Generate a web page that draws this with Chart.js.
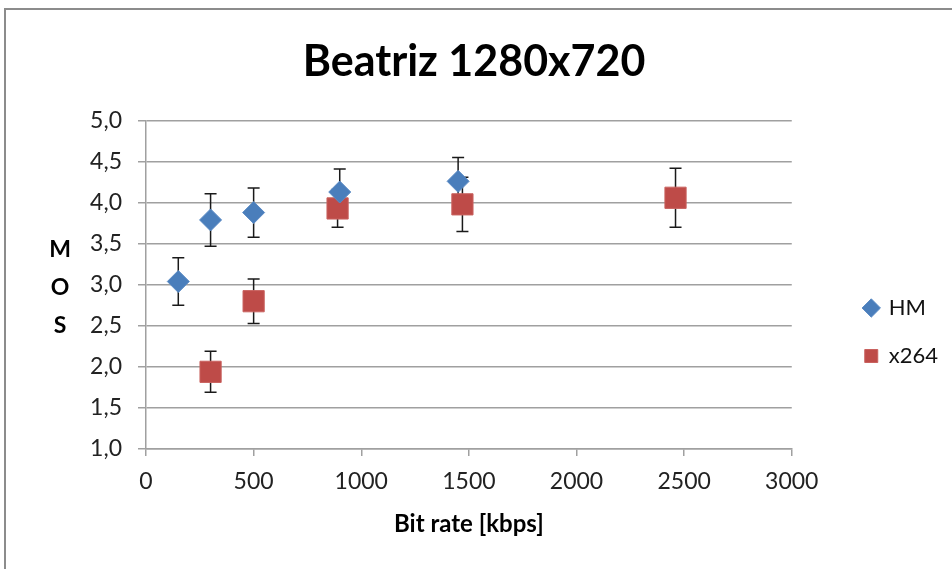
<!DOCTYPE html>
<html>
<head>
<meta charset="utf-8">
<script src="https://cdn.jsdelivr.net/npm/chart.js@4.4.1/dist/chart.umd.min.js"></script>
<style>
body { margin: 0; background: #fff; }
#wrap { position: relative; width: 952px; height: 569px; overflow: hidden; }
#frame { position: absolute; left: 4px; top: 8px; width: 1000px; height: 700px; border-top: 2px solid #8c8c8c; border-left: 2px solid #8c8c8c; }
canvas { position: absolute; left: 0; top: 0; }
</style>
</head>
<body>
<div id="wrap"><div id="frame"></div><canvas id="myChart" width="952" height="569"></canvas></div>
<script>
var bitrateHM = [150, 300, 500, 900, 1450];
var mosHM = [3.04, 3.79, 3.88, 4.13, 4.26];
var errHM = [0.29, 0.32, 0.30, 0.28, 0.29];

var bitrateX264 = [300, 500, 890, 1470, 2460];
var mosX264 = [1.94, 2.80, 3.93, 3.98, 4.06];
var errX264 = [0.25, 0.27, 0.23, 0.33, 0.36];

var yTitle = ['M', 'O', 'S'];

function points(xs, ys) {
    return xs.map(function(x, i) { return {x: x, y: ys[i]}; });
}

// whiskers drawn under the markers
var errorBars = {
    id: 'errorBars',
    beforeDatasetsDraw: function(chart) {
        var ctx = chart.ctx, xs = chart.scales.x, ys = chart.scales.y;
        ctx.save();
        ctx.strokeStyle = '#1a1a1a';
        ctx.lineWidth = 1.5;
        chart.data.datasets.forEach(function(ds) {
            ds.data.forEach(function(p, i) {
                var x = xs.getPixelForValue(p.x);
                var top = ys.getPixelForValue(p.y + ds.errors[i]);
                var bot = ys.getPixelForValue(p.y - ds.errors[i]);
                ctx.beginPath();
                ctx.moveTo(x, top); ctx.lineTo(x, bot);
                ctx.moveTo(x - 6, top); ctx.lineTo(x + 6, top);
                ctx.moveTo(x - 6, bot); ctx.lineTo(x + 6, bot);
                ctx.stroke();
            });
        });
        ctx.restore();
    }
};

// stacked "M O S" axis title
var mosTitle = {
    id: 'mosTitle',
    afterDraw: function(chart) {
        var ctx = chart.ctx, a = chart.chartArea;
        var mid = (a.top + a.bottom) / 2;
        ctx.save();
        ctx.font = 'bold 23px Lato';
        ctx.fillStyle = '#000';
        ctx.textAlign = 'center';
        ctx.textBaseline = 'middle';
        yTitle.forEach(function(ch, i) {
            ctx.fillText(ch, 60, mid + (i - 1) * 38 + 3);
        });
        ctx.restore();
    }
};

var gridColor = '#a0a0a0';

var options = {
    type: 'scatter',
    data: {
        datasets: [{
            label: 'HM',
            data: points(bitrateHM, mosHM),
            errors: errHM,
            pointStyle: 'rectRot',
            pointRadius: 11,
            pointHoverRadius: 11,
            backgroundColor: '#4a7ebb',
            borderColor: '#5a8ac4',
            borderWidth: 1
        }, {
            label: 'x264',
            data: points(bitrateX264, mosX264),
            errors: errX264,
            pointStyle: 'rect',
            pointRadius: 15,
            pointHoverRadius: 15,
            backgroundColor: '#be4b48',
            borderColor: '#c9625f',
            borderWidth: 1
        }]
    },
    options: {
        responsive: false,
        animation: false,
        layout: { padding: { left: 0, right: 4, top: 0, bottom: 0 } },
        plugins: {
            title: {
                display: true,
                text: 'Beatriz 1280x720',
                color: '#000',
                font: { family: 'Lato', size: 43, weight: 'bold' },
                padding: { top: 36, bottom: 33 }
            },
            legend: {
                position: 'right',
                title: { display: true, text: ' ', font: { size: 10 }, padding: { top: 0, bottom: 83 } },
                labels: {
                    usePointStyle: true,
                    boxWidth: 13,
                    boxHeight: 13,
                    padding: 26,
                    color: '#111',
                    font: { family: 'Lato', size: 22 }
                }
            },
            tooltip: { enabled: false }
        },
        scales: {
            x: {
                type: 'linear',
                min: 0,
                max: 3000,
                ticks: {
                    stepSize: 500,
                    padding: 12,
                    color: '#222',
                    font: { family: 'Lato', size: 23 },
                    callback: function(v) { return String(v); }
                },
                grid: { drawOnChartArea: false, tickLength: 7, color: gridColor, lineWidth: 1.5 },
                border: { color: gridColor, width: 1.5 },
                title: {
                    display: true,
                    text: 'Bit rate [kbps]',
                    color: '#000',
                    font: { family: 'Lato', size: 24, weight: 'bold' },
                    padding: { top: 0, bottom: 30 }
                },
                afterFit: function(s) { s.height = 120; }
            },
            y: {
                min: 1,
                max: 5,
                ticks: {
                    stepSize: 0.5,
                    padding: 16,
                    color: '#222',
                    font: { family: 'Lato', size: 23 },
                    callback: function(v) { return v.toFixed(1).replace('.', ','); }
                },
                grid: { color: gridColor, lineWidth: 1.5, tickLength: 8 },
                border: { color: gridColor, width: 1.5 },
                afterFit: function(s) { s.width = 146; }
            },
            y2: {
                position: 'right',
                grid: { display: false },
                ticks: { display: false },
                border: { display: false },
                afterFit: function(s) { s.width = 47; }
            }
        }
    },
    plugins: [errorBars, mosTitle]
};

var ctx = document.getElementById('myChart');
var chart = new Chart(ctx, options);
</script>
</body>
</html>
